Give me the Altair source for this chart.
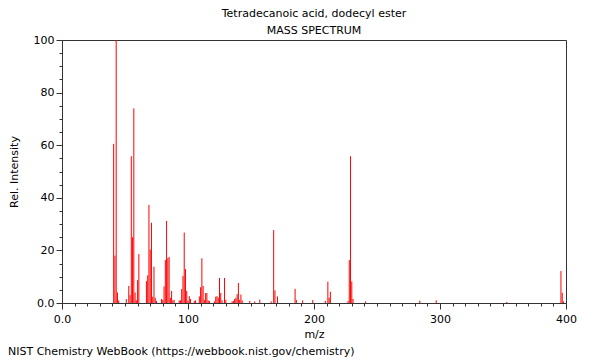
import altair as alt
import pandas as pd

# m/z values and relative intensities
mz = [41, 42, 43, 44, 45, 51, 53, 54, 55, 56, 57, 58, 59, 60, 61,
      67, 68, 69, 70, 71, 72, 73, 74, 75, 79, 80, 81, 82, 83, 84, 85, 86, 87, 88, 89,
      93, 94, 95, 96, 97, 98, 99, 100, 101, 102, 105, 106, 109, 110, 111, 112, 113,
      114, 115, 116, 117, 121, 122, 123, 124, 125, 126, 127, 129, 130, 135, 136,
      137, 138, 139, 140, 141, 142, 143, 149, 153, 157, 166, 168, 169, 171, 185, 186,
      191, 199, 209, 211, 212, 213, 227, 228, 229, 230, 231, 241, 284, 297, 353,
      396, 397, 398]
intensity = [60.5, 18, 100, 4, 1, 1.5, 6.5, 3, 55.8, 25, 74, 4, 1, 8.7, 18.6,
             8.3, 10.5, 37.3, 20.3, 30.5, 2.4, 13.8, 2, 0.8, 1.5, 1.2, 6.3, 16.3, 31.2, 17, 17.5, 2, 4.6, 1, 1.2,
             1, 1, 5.3, 10.3, 26.8, 12.9, 4.6, 0.8, 2.6, 1.5, 0.8, 1, 2.5, 6, 17, 6.5, 1.2,
             3.8, 3.8, 1, 0.8, 0.6, 2.4, 2.6, 2, 9.5, 3.8, 1, 9.5, 1.2, 0.6, 0.8,
             1.5, 2, 3.4, 7.6, 1.2, 3.2, 1, 0.8, 0.6, 1.3, 0.6, 27.7, 4.8, 2.5, 5.4, 1.2,
             1, 1.1, 0.8, 8.1, 2, 4.3, 0.8, 16.3, 55.8, 8.2, 1.5, 0.6, 0.9, 1, 0.4,
             12.2, 3.9, 0.6]

x_ticks = list(range(0, 401, 10))
y_ticks = list(range(0, 101, 5))

title_text = "Tetradecanoic acid, dodecyl ester"
subtitle_text = "MASS SPECTRUM"
footer_text = ["NIST Chemistry WebBook (https://webbook.nist.gov/chemistry)"]

df = pd.DataFrame({"mz": mz, "intensity": intensity})
FONT = "DejaVu Sans"

x_axis = alt.Axis(
    values=x_ticks,
    labelExpr="datum.value % 100 === 0 ? (datum.value === 0 ? '0.0' : format(datum.value, 'd')) : ''",
    tickSize={"condition": {"test": "datum.value % 100 === 0", "value": 6}, "value": 3},
    grid=False, labelFlush=False, labelOverlap=False,
    title="m/z", titleFont=FONT, titleFontSize=11, titleFontWeight="normal", titleColor="black",
    labelFont=FONT, labelFontSize=11, labelColor="black", labelPadding=4, titlePadding=4,
    domainColor="#333", tickColor="#333",
)
y_axis = alt.Axis(
    values=y_ticks,
    labelExpr="datum.value % 20 === 0 ? (datum.value === 0 ? '0.0' : format(datum.value, 'd')) : ''",
    tickSize={"condition": {"test": "datum.value % 20 === 0", "value": 6}, "value": 3},
    grid=False, labelOverlap=False,
    title="Rel. Intensity", titleFont=FONT, titleFontSize=11, titleFontWeight="normal", titleColor="black",
    labelFont=FONT, labelFontSize=11, labelColor="black", labelPadding=2, titlePadding=14,
    domainColor="#333", tickColor="#333",
)

spectrum = alt.Chart(df).mark_rule(color="#ff0000", strokeWidth=1).encode(
    x=alt.X("mz:Q", scale=alt.Scale(domain=[0, 400], nice=False, zero=False), axis=x_axis),
    y=alt.Y("intensity:Q", scale=alt.Scale(domain=[0, 100], nice=False), axis=y_axis),
    y2=alt.datum(0),
)

footer = alt.Chart(pd.DataFrame({"t": footer_text})).mark_text(
    align="left", baseline="middle", font=FONT, fontSize=11, color="black"
).encode(x=alt.value(-54), y=alt.value(312), text="t:N")

chart = alt.layer(spectrum, footer).properties(
    width=504, height=263,
    autosize=alt.AutoSizeParams(type="none"),
    padding={"left": 54, "top": 32, "right": 26, "bottom": 55},
    title=alt.Title(
        text=title_text, subtitle=subtitle_text, anchor="middle",
        font=FONT, fontSize=11, fontWeight="normal", color="black",
        subtitleFont=FONT, subtitleFontSize=11, subtitleColor="black",
        subtitlePadding=6, offset=-2,
    ),
).configure_view(stroke="#333", strokeWidth=1)

chart.save("out.html", embed_options={"renderer": "svg", "actions": False})
